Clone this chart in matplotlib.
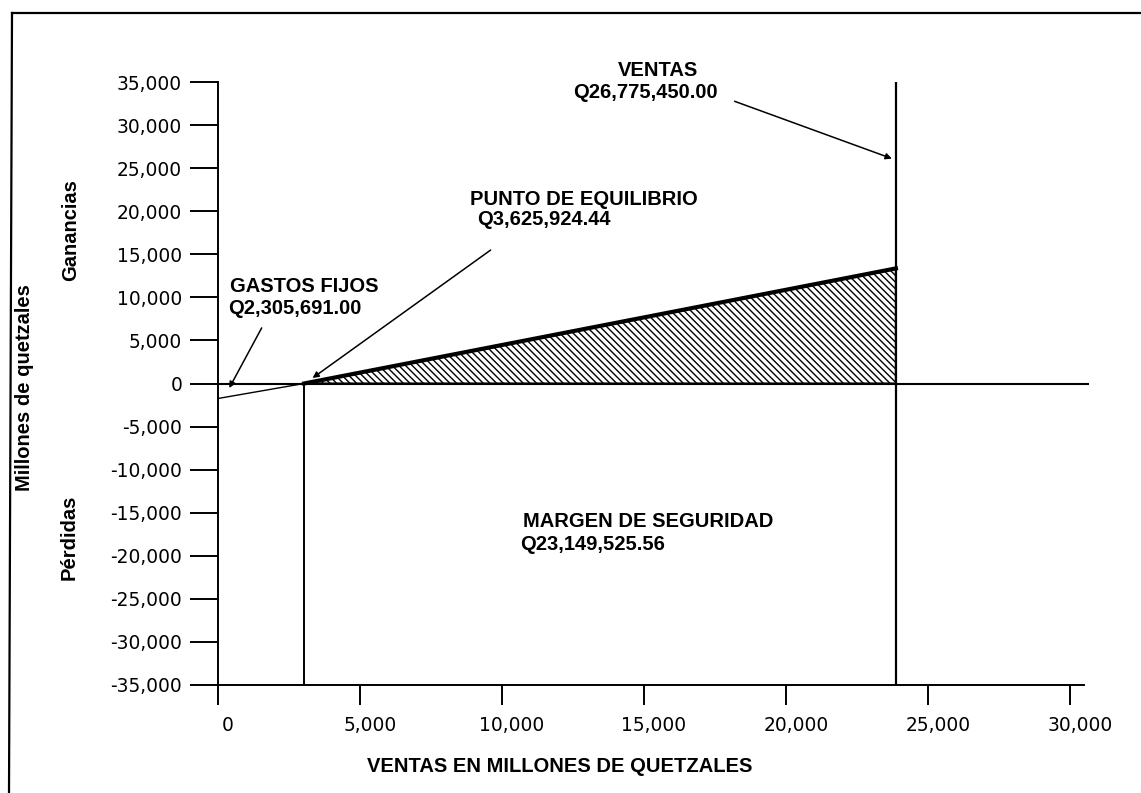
import matplotlib.pyplot as plt
import matplotlib.transforms as mtransforms
from matplotlib.lines import Line2D
from matplotlib.ticker import FuncFormatter

# Datos (miles de quetzales)
x_ticks = [0, 5000, 10000, 15000, 20000, 25000, 30000]
y_ticks = [-35000, -30000, -25000, -20000, -15000, -10000, -5000,
           0, 5000, 10000, 15000, 20000, 25000, 30000, 35000]
ventas_x = [0, 3030, 23870]          # inicio, punto de equilibrio, ventas
resultado_y = [-1740, 0, 13360]      # perdida/ganancia en cada punto
equilibrio = ventas_x[1]
ventas = ventas_x[2]

etiquetas = {
    "ventas": ("VENTAS", "Q26,775,450.00"),
    "equilibrio": ("PUNTO DE EQUILIBRIO", "Q3,625,924.44"),
    "fijos": ("GASTOS FIJOS", "Q2,305,691.00"),
    "margen": ("MARGEN DE SEGURIDAD", "Q23,149,525.56"),
}

W, H = 1141, 793
fig = plt.figure(figsize=(W / 100, H / 100), dpi=100)
ax = fig.add_axes([218 / W, 1 - 685 / H, 871 / W, (685 - 82) / H])

bold = dict(family="Liberation Sans", weight="bold", fontsize=14.5)

ax.set_xlim(0, 30670)
ax.set_ylim(-35000, 35000)
ax.set_xticks(x_ticks)
ax.set_yticks(y_ticks)
fmt = FuncFormatter(lambda v, p: f"{v:,.0f}")
ax.xaxis.set_major_formatter(fmt)
ax.yaxis.set_major_formatter(fmt)
ax.tick_params(axis="x", direction="out", length=14.4, width=1.4, pad=8,
               labelsize=13.4)
ax.tick_params(axis="y", direction="out", length=20, width=1.4, pad=5.8,
               labelsize=13.4)
for lab in ax.get_xticklabels():
    lab.set_transform(lab.get_transform() +
                      mtransforms.ScaledTranslation(0.10, 0, fig.dpi_scale_trans))
for lab in ax.get_xticklabels() + ax.get_yticklabels():
    lab.set_family("DejaVu Sans")

for s in ["top", "right"]:
    ax.spines[s].set_visible(False)
ax.spines["left"].set_linewidth(1.4)
ax.spines["bottom"].set_linewidth(1.4)
ax.spines["bottom"].set_bounds(0, 30500)

# linea de cero, ventas y punto de equilibrio
ax.axhline(0, color="black", lw=1.5)
ax.axvline(ventas, color="black", lw=1.6)
ax.vlines(equilibrio, -35000, 0, color="black", lw=1.4)

# linea de resultado
ax.plot(ventas_x[:2], resultado_y[:2], color="black", lw=1.0)
ax.plot(ventas_x[1:], resultado_y[1:], color="black", lw=3.0)
plt.rcParams["hatch.linewidth"] = 1.0
ax.fill_between(ventas_x[1:], [0, 0], resultado_y[1:], facecolor="white",
                edgecolor="black", hatch="\\\\\\\\\\", lw=1.5)

# anotaciones
flecha = dict(arrowstyle="-|>", color="black", lw=1.1, mutation_scale=9)
ax.text(15490, 36350, etiquetas["ventas"][0], ha="center", va="center",
        clip_on=False, **bold)
ax.text(15035, 33800, etiquetas["ventas"][1], ha="center", va="center",
        clip_on=False, **bold)
ax.annotate("", xy=(ventas - 50, 26000), xytext=(18100, 32870),
            arrowprops=flecha)

ax.text(8870, 21370, etiquetas["equilibrio"][0], ha="left", va="center", **bold)
ax.text(9120, 19050, etiquetas["equilibrio"][1], ha="left", va="center", **bold)
ax.annotate("", xy=(3250, 450), xytext=(9680, 15680), arrowprops=flecha)

ax.text(420, 11270, etiquetas["fijos"][0], ha="left", va="center", **bold)
ax.text(350, 8710, etiquetas["fijos"][1], ha="left", va="center", **bold)
ax.annotate("", xy=(350, -810), xytext=(1585, 6740), arrowprops=flecha)

ax.text(10740, -16030, etiquetas["margen"][0], ha="left", va="center", **bold)
ax.text(10630, -18700, etiquetas["margen"][1], ha="left", va="center", **bold)

# titulos de ejes
fig.text(560 / W, 1 - 767 / H, "VENTAS EN MILLONES DE QUETZALES",
         ha="center", va="center", **bold)
fig.text(25 / W, 1 - 388 / H, "Millones de quetzales", rotation=90,
         ha="center", va="center", **bold)
fig.text(71 / W, 1 - 230 / H, "Ganancias", rotation=90,
         ha="center", va="center", **bold)
fig.text(69 / W, 1 - 537 / H, "Pérdidas", rotation=90,
         ha="center", va="center", **bold)

# marco exterior
fig.add_artist(Line2D([12 / W, 1], [1 - 13 / H, 1 - 13 / H], color="black",
                      lw=1.6, transform=fig.transFigure))
fig.add_artist(Line2D([12 / W, 9 / W], [1 - 13 / H, 0], color="black",
                      lw=1.6, transform=fig.transFigure))

fig.savefig("out.png", dpi=100)
